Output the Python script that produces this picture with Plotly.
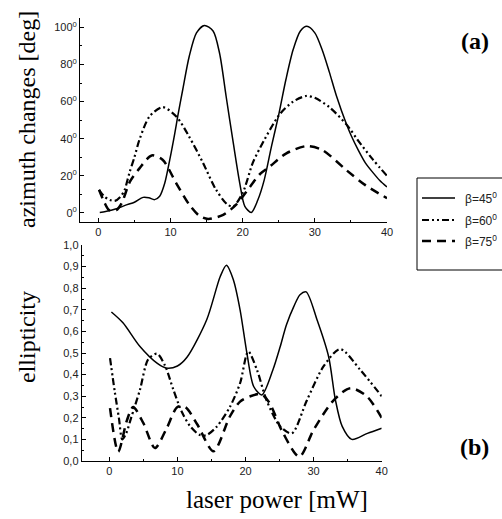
import plotly.graph_objects as go

# ---- laser power axis values and measured curves ----
# upper panel: azimuth change (degrees)
az45_x = [0.2, 1.0, 2.5, 4.0, 5.0, 6.2, 7.0, 7.8, 8.5, 9.2, 9.9, 10.6, 11.0, 11.7, 12.6, 13.6,
          14.7, 15.9, 16.8, 17.7, 18.7, 19.6, 20.3, 21.2, 22.1, 23.0, 24.0, 25.0, 26.0, 27.0,
          28.0, 28.9, 30.0, 31.0, 32.0, 33.0, 34.4, 35.0, 36.0, 37.0, 38.0, 39.0, 40.0]
az45_y = [0.3, 0.8, 2.3, 4.5, 5.8, 8.4, 8.2, 7.2, 9.0, 16.0, 28.7, 43.0, 52.0, 66.5, 84.4, 97.0,
          101.0, 98.0, 86.0, 63.0, 37.7, 16.0, 3.6, 0.3, 7.0, 18.0, 36.0, 53.0, 72.0, 88.0,
          98.0, 100.5, 97.0, 88.0, 76.0, 63.0, 47.6, 42.0, 34.0, 27.0, 22.0, 17.5, 14.0]

az60_x = [0.1, 0.8, 1.6, 2.3, 3.0, 3.6, 4.3, 5.0, 5.7, 7.1, 8.9, 10.8, 12.6, 14.5, 16.3, 17.9,
          18.7, 20.0, 21.4, 22.4, 25.1, 27.0, 28.8, 30.0, 32.0, 34.4, 36.0, 38.0, 40.0]
az60_y = [12.5, 9.0, 7.0, 6.5, 8.5, 12.0, 21.5, 30.0, 39.5, 52.0, 57.0, 52.0, 41.0, 27.0, 12.6, 4.5,
          3.6, 10.8, 27.0, 35.0, 53.0, 60.0, 63.0, 62.0, 57.0, 47.6, 39.0, 29.0, 20.0]

az75_x = [0.1, 0.8, 1.5, 2.5, 3.2, 4.4, 5.7, 7.4, 8.9, 10.8, 12.6, 14.0, 15.2, 17.3, 19.1, 21.0,
          22.4, 23.75, 26.0, 28.8, 31.0, 34.4, 37.0, 40.0]
az75_y = [12.5, 6.0, 1.5, 1.5, 5.0, 17.0, 24.0, 31.0, 28.7, 16.0, 4.5, -1.5, -3.2, -1.0, 4.5, 14.0,
          21.0, 25.0, 32.0, 36.0, 34.0, 23.0, 15.0, 8.0]

# lower panel: ellipticity
el45_x = [0.3, 2.0, 4.5, 7.0, 8.4, 10.0, 11.4, 14.3, 16.3, 17.2, 18.2, 19.2, 20.2, 21.2, 22.4,
          24.0, 25.1, 26.0, 27.1, 28.0, 28.9, 30.5, 32.2, 33.2, 34.2, 35.6, 37.9, 40.0]
el45_y = [0.69, 0.64, 0.53, 0.453, 0.43, 0.44, 0.48, 0.654, 0.855, 0.906, 0.84, 0.70, 0.50, 0.345,
          0.306, 0.42, 0.53, 0.63, 0.716, 0.77, 0.783, 0.654, 0.484, 0.283, 0.16, 0.10, 0.128, 0.152]

el60_x = [0.1, 0.8, 1.4, 1.9, 2.5, 3.2, 4.5, 5.7, 7.0, 8.2, 9.4, 10.6, 11.9, 13.3, 14.3, 15.8,
          17.7, 19.2, 20.4, 21.7, 23.1, 25.1, 26.8, 29.0, 31.5, 33.9, 36.9, 40.0]
el60_y = [0.476, 0.32, 0.2, 0.10, 0.13, 0.2, 0.33, 0.47, 0.497, 0.44, 0.33, 0.23, 0.16, 0.12, 0.12,
          0.16, 0.25, 0.36, 0.507, 0.42, 0.28, 0.16, 0.128, 0.28, 0.44, 0.518, 0.42, 0.30]

el75_x = [0.1, 1.3, 2.6, 3.5, 5.0, 6.7, 8.4, 10.0, 11.2, 12.9, 15.3, 17.7, 19.2, 20.7, 22.3, 23.5,
          25.5, 27.9, 30.0, 32.9, 35.4, 37.8, 40.0]
el75_y = [0.245, 0.043, 0.19, 0.25, 0.175, 0.06, 0.15, 0.25, 0.248, 0.17, 0.045, 0.206, 0.275, 0.30,
          0.31, 0.27, 0.13, 0.02, 0.144, 0.28, 0.337, 0.30, 0.20]

series_names = ["\u03b2=45<sup>0</sup>", "\u03b2=60<sup>0</sup>", "\u03b2=75<sup>0</sup>"]

az_ticks = [0, 20, 40, 60, 80, 100]
az_ticktext = [f"{v}<sup>0</sup>" for v in az_ticks]
el_ticks = [0.0, 0.1, 0.2, 0.3, 0.4, 0.5, 0.6, 0.7, 0.8, 0.9, 1.0]
el_ticktext = [f"{v:.1f}".replace(".", ",") for v in el_ticks]
power_ticks = [0, 10, 20, 30, 40]

# ---- figure geometry (pixels) ----
W, H = 502, 519
ML, MR, MT, MB = 80, 115, 18, 58
PW, PH = W - ML - MR, H - MT - MB


def px_x(p):
    return (p - ML) / PW


def px_y(p):
    return (H - MB - p) / PH


styles = [
    dict(color="black", width=1.5, dash="solid"),
    dict(color="black", width=2.2, dash="7px,3px,2px,3px,2px,3px"),
    dict(color="black", width=2.5, dash="9px,6px"),
]

fig = go.Figure()
for name, xs, ys, st in zip(series_names, [az45_x, az60_x, az75_x], [az45_y, az60_y, az75_y], styles):
    fig.add_trace(go.Scatter(x=xs, y=ys, mode="lines", name=name,
                             line=dict(shape="spline", smoothing=0.8, **st), xaxis="x", yaxis="y"))
for name, xs, ys, st in zip(series_names, [el45_x, el60_x, el75_x], [el45_y, el60_y, el75_y], styles):
    fig.add_trace(go.Scatter(x=xs, y=ys, mode="lines", name=name,
                             line=dict(shape="spline", smoothing=0.8, **st), xaxis="x2", yaxis="y2"))

tickfont = dict(family="Liberation Sans, Arial, sans-serif", size=11, color="#222")
axis_common = dict(showline=True, linecolor="black", linewidth=1, mirror=False, showgrid=False,
                   zeroline=False, ticks="inside", ticklen=4, tickwidth=1, tickcolor="black",
                   tickfont=tickfont)


def minor(step):
    return dict(dtick=step, tick0=0, ticks="inside", ticklen=2, tickcolor="black")


fig.update_layout(
    width=W, height=H,
    margin=dict(l=ML, r=MR, t=MT, b=MB, autoexpand=False),
    paper_bgcolor="white", plot_bgcolor="white",
    showlegend=False,
    xaxis=dict(domain=[0, 1], range=[-2.54, 40], anchor="y", tickvals=power_ticks,
               minor=minor(5), **axis_common),
    yaxis=dict(domain=[px_y(222), 1], range=[-4.85, 105], anchor="x", tickvals=az_ticks,
               ticktext=az_ticktext, minor=minor(10), **axis_common),
    xaxis2=dict(domain=[px_x(81.7), px_x(381.7)], range=[-4.06, 40], anchor="y2", tickvals=power_ticks,
                minor=minor(5), **axis_common),
    yaxis2=dict(domain=[0, px_y(245)], range=[0, 1.0], anchor="x2", tickvals=el_ticks,
                ticktext=el_ticktext, minor=minor(0.05), **axis_common),
)

# legend key: frame open to the right edge, sample lines and labels
fig.add_shape(type="path", xref="paper", yref="paper",
              path=f"M {px_x(W)},{px_y(178)} L {px_x(417)},{px_y(178)} "
                   f"L {px_x(417)},{px_y(270)} L {px_x(W)},{px_y(270)}",
              line=dict(color="black", width=1))
legend_rows = [198, 220, 241]
for name, st, row in zip(series_names, styles, legend_rows):
    fig.add_shape(type="line", xref="paper", yref="paper", x0=px_x(422), x1=px_x(455),
                  y0=px_y(row), y1=px_y(row), line=st)
    fig.add_annotation(text=name, xref="paper", yref="paper", x=px_x(463), y=px_y(row),
                       showarrow=False, xanchor="left", yanchor="middle",
                       font=dict(family="Liberation Sans, Arial, sans-serif", size=12, color="#222"))

serif = "Liberation Serif, Times New Roman, serif"
fig.add_annotation(text="azimuth changes [deg]", xref="paper", yref="paper", x=px_x(27), y=px_y(120),
                   textangle=-90, showarrow=False, font=dict(family=serif, size=24, color="black"),
                   xanchor="center", yanchor="middle")
fig.add_annotation(text="ellipticity", xref="paper", yref="paper", x=px_x(27), y=px_y(337),
                   textangle=-90, showarrow=False, font=dict(family=serif, size=24, color="black"),
                   xanchor="center", yanchor="middle")
fig.add_annotation(text="laser power [mW]", xref="paper", yref="paper", x=px_x(277), y=px_y(499),
                   showarrow=False, font=dict(family=serif, size=25, color="black"),
                   xanchor="center", yanchor="middle")
fig.add_annotation(text="<b>(a)</b>", xref="paper", yref="paper", x=px_x(475), y=px_y(41),
                   showarrow=False, font=dict(family=serif, size=24, color="black"),
                   xanchor="center", yanchor="middle")
fig.add_annotation(text="<b>(b)</b>", xref="paper", yref="paper", x=px_x(475), y=px_y(447),
                   showarrow=False, font=dict(family=serif, size=24, color="black"),
                   xanchor="center", yanchor="middle")

fig.write_html("out.html")
